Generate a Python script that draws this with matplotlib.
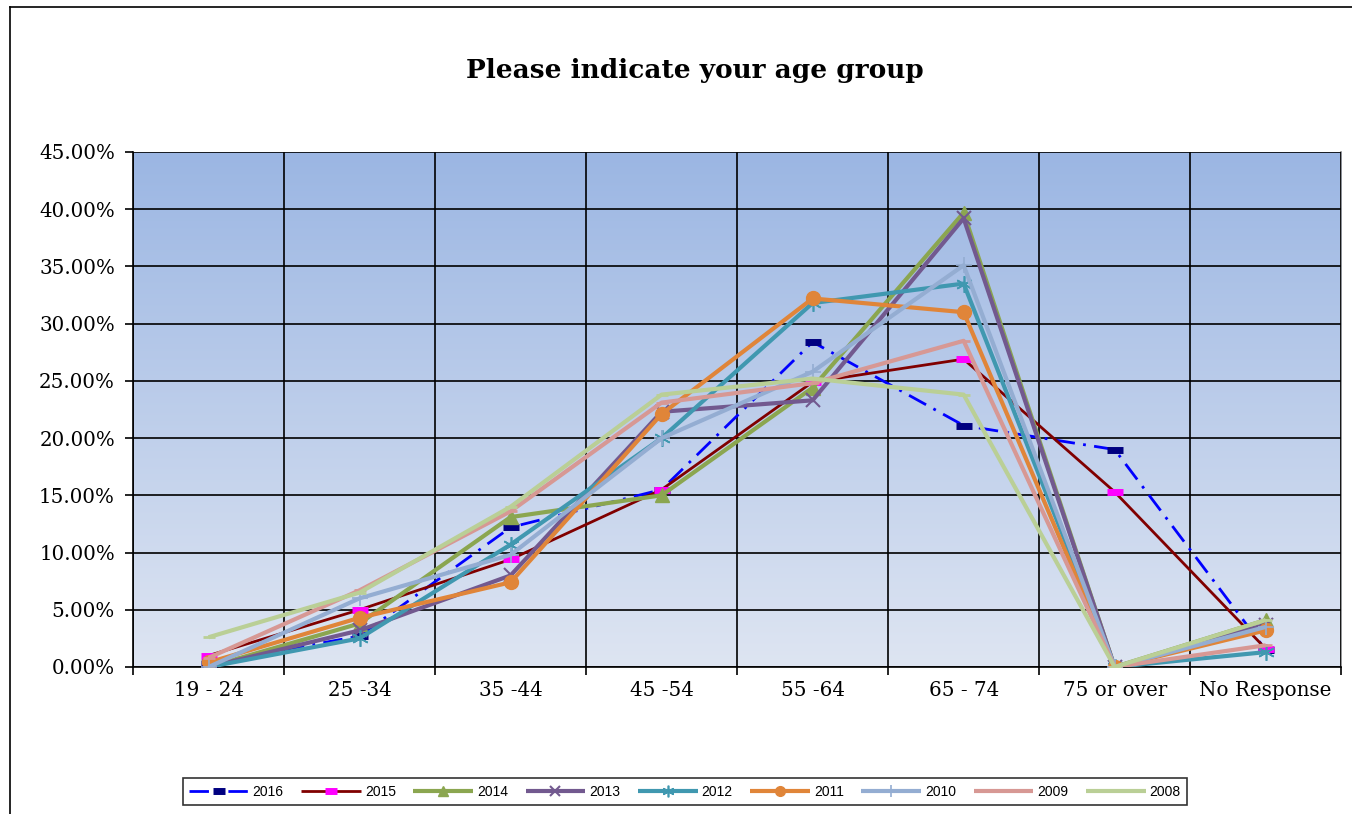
import numpy as np
import matplotlib
matplotlib.use("Agg")
import matplotlib.pyplot as plt
from matplotlib.ticker import FuncFormatter, MultipleLocator
from matplotlib.colors import LinearSegmentedColormap

# age groups on the x axis
categories = ["19 - 24", "25 -34", "35 -44", "45 -54", "55 -64", "65 - 74", "75 or over", "No Response"]

# percentages per survey year
y2016 = [0.3, 2.7, 12.2, 15.5, 28.4, 21.1, 19.0, 1.5]
y2015 = [1.0, 5.0, 9.4, 15.5, 24.9, 26.9, 15.3, 1.6]
y2014 = [0.0, 3.8, 13.1, 15.0, 24.4, 39.7, 0.0, 4.1]
y2013 = [0.0, 3.2, 8.0, 22.3, 23.3, 39.2, 0.0, 3.7]
y2012 = [0.0, 2.5, 10.7, 20.0, 31.8, 33.5, 0.0, 1.3]
y2011 = [0.4, 4.3, 7.4, 22.1, 32.2, 31.0, 0.0, 3.2]
y2010 = [0.0, 6.0, 9.8, 20.0, 25.8, 35.1, 0.0, 3.5]
y2009 = [0.8, 6.7, 13.6, 23.1, 24.8, 28.5, 0.0, 1.9]
y2008 = [2.6, 6.5, 14.0, 23.8, 25.2, 23.8, 0.0, 4.1]

years = ["2016", "2015", "2014", "2013", "2012", "2011", "2010", "2009", "2008"]
series = [y2016, y2015, y2014, y2013, y2012, y2011, y2010, y2009, y2008]

# line styles per year
styles = {
    "2016": dict(color="#0000FF", lw=2.0, ls=(0, (7, 3, 1, 3)), marker="_", ms=12, mec="#000080", mew=5),
    "2015": dict(color="#800000", lw=2.0, ls="-", marker="_", ms=12, mec="#FF00FF", mew=5),
    "2014": dict(color="#8BA650", lw=3.0, ls="-", marker="^", ms=10, mec="#8BA650", mew=1),
    "2013": dict(color="#72598F", lw=3.0, ls="-", marker="x", ms=10, mec="#72598F", mew=1.5),
    "2012": dict(color="#4098B0", lw=3.0, ls="-", marker=(6, 2, 0), ms=12, mec="#4098B0", mew=1.2),
    "2011": dict(color="#E08539", lw=3.0, ls="-", marker="o", ms=10, mec="#E08539", mew=1),
    "2010": dict(color="#94ADD2", lw=3.0, ls="-", marker="+", ms=12, mec="#94ADD2", mew=1.2),
    "2009": dict(color="#D79894", lw=3.0, ls="-", marker="_", ms=8, mec="#D79894", mew=2),
    "2008": dict(color="#BACF96", lw=3.0, ls="-", marker="_", ms=8, mec="#BACF96", mew=2),
}

serif = ["DejaVu Serif"]

fig = plt.figure(figsize=(13.52, 8.14), dpi=100)
ax = fig.add_axes([0.0984, 0.1806, 0.8936, 0.6327])

# gradient plot area background
cmap = LinearSegmentedColormap.from_list("bg", ["#DEE5F2", "#9BB6E3"])
ax.imshow(np.linspace(0, 1, 256).reshape(-1, 1), aspect="auto", cmap=cmap,
          extent=[-0.5, 7.5, 0, 45], origin="lower", zorder=0)

x = np.arange(len(categories))
for i, (yr, vals) in enumerate(zip(years, series)):
    s = styles[yr]
    ax.plot(x, vals, color=s["color"], lw=s["lw"], ls=s["ls"], marker=s["marker"],
            ms=s["ms"], mec=s["mec"], mfc=s["mec"], mew=s["mew"], label=yr,
            zorder=3 + i, solid_capstyle="butt")

ax.set_xlim(-0.5, 7.5)
ax.set_ylim(0, 45)
ax.yaxis.set_major_locator(MultipleLocator(5))
ax.yaxis.set_major_formatter(FuncFormatter(lambda v, p: f"{v:.2f}%"))
ax.set_xticks(x)
ax.set_xticklabels(categories)
ax.set_xticks(np.arange(-0.5, 8, 1), minor=True)
ax.tick_params(axis="x", which="major", length=0, pad=10)
ax.tick_params(axis="x", which="minor", length=6, width=1.2, direction="out")
ax.tick_params(axis="y", length=6, width=1.2, direction="out", pad=7)
for lab in ax.get_xticklabels() + ax.get_yticklabels():
    lab.set_fontfamily(serif)
    lab.set_fontsize(14.3)

ax.grid(True, axis="y", which="major", color="black", lw=1.2, zorder=1)
ax.grid(True, axis="x", which="minor", color="black", lw=1.2, zorder=1)
ax.set_axisbelow(False)
for sp in ax.spines.values():
    sp.set_color("black")
    sp.set_linewidth(1.2)
ax.spines["top"].set_visible(False)
ax.spines["right"].set_color("#888888")

fig.text(0.514, 0.913, "Please indicate your age group", ha="center", va="center",
         fontsize=19, fontweight="bold", family=serif)

# chart area frame (left and top edges)
fig.add_artist(plt.Line2D([0.0075, 0.0075], [0, 0.9915], color="black", lw=1.2))
fig.add_artist(plt.Line2D([0.0075, 1.0], [0.9915, 0.9915], color="black", lw=1.2))

leg = fig.legend(loc="center", bbox_to_anchor=(0.5065, 0.0275), ncol=9,
                 frameon=True, fancybox=False, edgecolor="black", handlelength=4.3,
                 columnspacing=1.25, handletextpad=0.3, borderpad=0.45, markerscale=0.7,
                 prop={"family": "Liberation Sans", "size": 10})
leg.get_frame().set_linewidth(1.2)

fig.savefig("out.png", dpi=100)
